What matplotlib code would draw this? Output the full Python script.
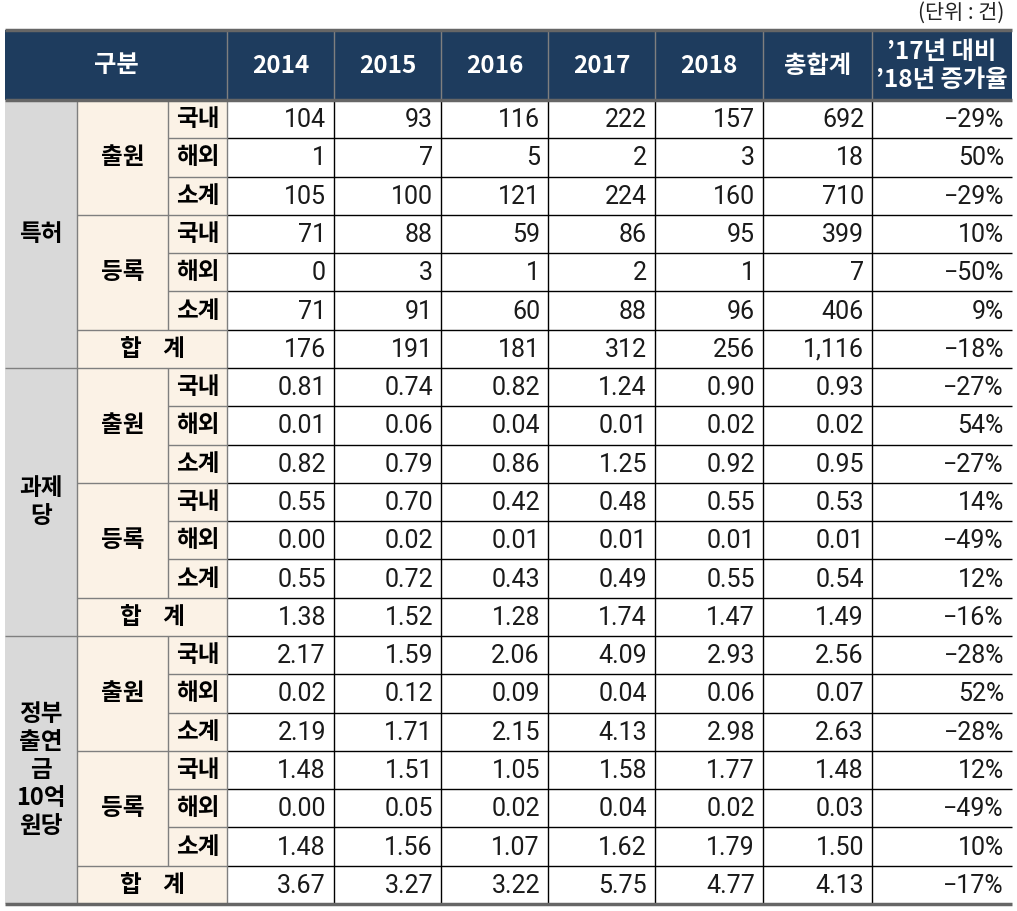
import matplotlib.pyplot as plt
from matplotlib.patches import Rectangle

plt.rcParams['font.family'] = ['Noto Sans CJK KR', 'DejaVu Sans']

years = ['2014', '2015', '2016', '2017', '2018']
header_extra = ['총합계', '’17년 대비\n’18년 증가율']
groups = ['특허', '과제\n당', '정부\n출연\n금\n10억\n원당']
subgroups = ['출원', '등록']
items = ['국내', '해외', '소계']

patent = [
    ['104', '93', '116', '222', '157', '692', '−29%'],
    ['1', '7', '5', '2', '3', '18', '50%'],
    ['105', '100', '121', '224', '160', '710', '−29%'],
    ['71', '88', '59', '86', '95', '399', '10%'],
    ['0', '3', '1', '2', '1', '7', '−50%'],
    ['71', '91', '60', '88', '96', '406', '9%'],
    ['176', '191', '181', '312', '256', '1,116', '−18%'],
]
per_project = [
    ['0.81', '0.74', '0.82', '1.24', '0.90', '0.93', '−27%'],
    ['0.01', '0.06', '0.04', '0.01', '0.02', '0.02', '54%'],
    ['0.82', '0.79', '0.86', '1.25', '0.92', '0.95', '−27%'],
    ['0.55', '0.70', '0.42', '0.48', '0.55', '0.53', '14%'],
    ['0.00', '0.02', '0.01', '0.01', '0.01', '0.01', '−49%'],
    ['0.55', '0.72', '0.43', '0.49', '0.55', '0.54', '12%'],
    ['1.38', '1.52', '1.28', '1.74', '1.47', '1.49', '−16%'],
]
per_billion = [
    ['2.17', '1.59', '2.06', '4.09', '2.93', '2.56', '−28%'],
    ['0.02', '0.12', '0.09', '0.04', '0.06', '0.07', '52%'],
    ['2.19', '1.71', '2.15', '4.13', '2.98', '2.63', '−28%'],
    ['1.48', '1.51', '1.05', '1.58', '1.77', '1.48', '12%'],
    ['0.00', '0.05', '0.02', '0.04', '0.02', '0.03', '−49%'],
    ['1.48', '1.56', '1.07', '1.62', '1.79', '1.50', '10%'],
    ['3.67', '3.27', '3.22', '5.75', '4.77', '4.13', '−17%'],
]
blocks = [patent, per_project, per_billion]

# layout (pixels)
W, H = 1017, 911
cols = [5, 77, 168, 227, 334, 441, 548, 655, 763, 872, 1012]
top, head_bot, bottom = 30, 100, 904
rh = (bottom - head_bot) / 21

navy = '#1E3C5E'
gray_bg = '#D9D9D9'
cream = '#FBF2E6'
line_gray = '#7F7F7F'

fig = plt.figure(figsize=(W / 100, H / 100), dpi=100)
ax = fig.add_axes([0, 0, 1, 1])
ax.set_xlim(0, W)
ax.set_ylim(H, 0)
ax.axis('off')

def hline(y, x0, x1, color='black', lw=1.0):
    ax.plot([x0, x1], [y, y], color=color, lw=lw, solid_capstyle='butt')

def vline(x, y0, y1, color='black', lw=1.0):
    ax.plot([x, x], [y0, y1], color=color, lw=lw, solid_capstyle='butt')

# header
ax.add_patch(Rectangle((cols[0], top), cols[-1] - cols[0], head_bot - top, color=navy, lw=0))
hfont = dict(color='white', fontsize=17.5, fontweight='bold', ha='center', va='center')
ax.text((cols[0] + cols[3]) / 2, (top + head_bot) / 2, '구분', **hfont)
for i, lab in enumerate(years + header_extra):
    xc = (cols[3 + i] + cols[4 + i]) / 2
    ax.text(xc, (top + head_bot) / 2 + 1, lab, linespacing=1.2, **hfont)
for x in cols[3:-1]:
    vline(x, top, head_bot, color=line_gray)

ax.text(1004, 13, '(단위 : 건)', ha='right', va='center', fontsize=15, color='#222222')

lab_font = dict(fontsize=17, fontweight='bold', ha='center', va='center', color='black')
num_font = dict(fontsize=18, ha='right', va='center', color='#1a1a1a', family=['Roboto', 'DejaVu Sans'])

for b, block in enumerate(blocks):
    y0 = head_bot + b * 7 * rh
    # backgrounds
    ax.add_patch(Rectangle((cols[0], y0), cols[1] - cols[0], 7 * rh, color=gray_bg, lw=0))
    ax.add_patch(Rectangle((cols[1], y0), cols[3] - cols[1], 7 * rh, color=cream, lw=0))
    ax.text((cols[0] + cols[1]) / 2, y0 + 3.5 * rh, groups[b], linespacing=1.2, **lab_font)
    for s in range(2):
        ys = y0 + s * 3 * rh
        ax.text((cols[1] + cols[2]) / 2, ys + 1.5 * rh, subgroups[s], **lab_font)
        for k in range(3):
            ax.text((cols[2] + cols[3]) / 2, ys + (k + 0.5) * rh, items[k], **lab_font)
    ax.text((cols[1] + cols[3]) / 2, y0 + 6.5 * rh, '합    계', **lab_font)
    for r, row in enumerate(block):
        yc = y0 + (r + 0.5) * rh
        for c, val in enumerate(row):
            ax.text(cols[4 + c] - 8, yc + 1, val, **num_font)
    # horizontal lines
    for r in range(1, 7):
        y = y0 + r * rh
        if r == 3 or r == 6:
            hline(y, cols[1], cols[3], color=line_gray)
        else:
            hline(y, cols[2], cols[3], color=line_gray)
        hline(y, cols[3], cols[-1])
    if b > 0:
        hline(y0, cols[0], cols[3], color=line_gray)
        hline(y0, cols[3], cols[-1])
    # vertical lines
    vline(cols[1], y0, y0 + 7 * rh, color=line_gray)
    vline(cols[2], y0, y0 + 6 * rh, color=line_gray)
    vline(cols[3], y0, y0 + 7 * rh, color=line_gray)
    for x in cols[4:-1]:
        vline(x, y0, y0 + 7 * rh)

hline(top, cols[0], cols[-1], color='#666666', lw=2.5)
hline(head_bot, cols[0], cols[-1], color='#666666', lw=2.5)
hline(bottom, cols[0], cols[-1], color='#666666', lw=2.5)

fig.savefig('out.png', dpi=100)
